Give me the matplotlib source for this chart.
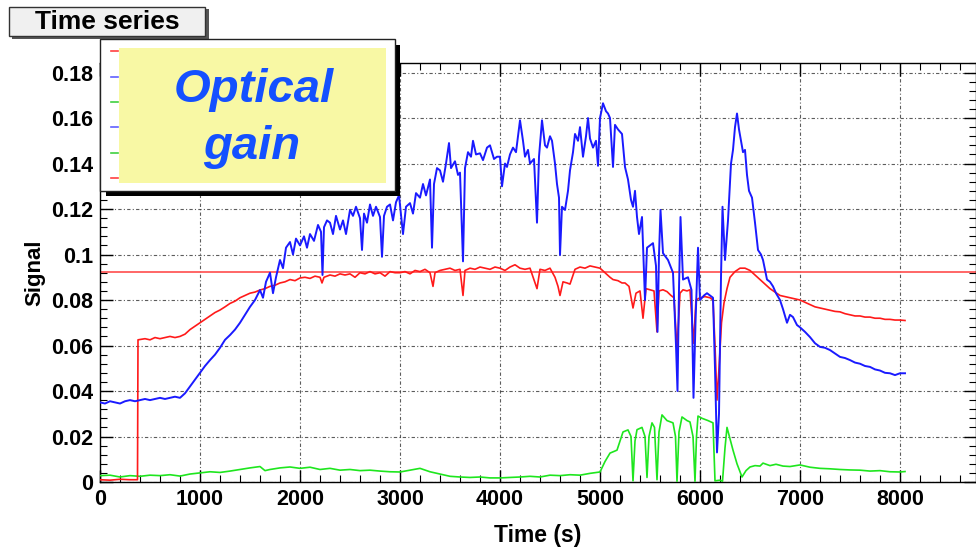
import matplotlib
matplotlib.use("Agg")
import matplotlib.pyplot as plt
from matplotlib.patches import Rectangle
from matplotlib.lines import Line2D
from matplotlib.ticker import MultipleLocator

plt.rcParams['font.family'] = ['Liberation Sans', 'DejaVu Sans']

# ---------------- data ----------------
blue_t = [0, 50, 100, 150, 200, 250, 300, 350, 400, 450, 500, 550, 600, 650, 700, 750, 800,
          850, 900, 950, 1000, 1050, 1100, 1150, 1200, 1250, 1300, 1350, 1400, 1450, 1500,
          1550, 1600, 1630, 1660, 1700, 1730, 1760, 1800, 1830, 1860, 1900, 1930, 1960, 2000,
          2040, 2070, 2100, 2140, 2180, 2210, 2225, 2240, 2270, 2300, 2330, 2360, 2400, 2430,
          2460, 2500, 2530, 2560, 2600, 2620, 2640, 2670, 2700, 2730, 2760, 2800, 2820, 2840,
          2870, 2900, 2930, 2960, 2990, 3030, 3060, 3100, 3130, 3160, 3200, 3230, 3260, 3300,
          3320, 3340, 3370, 3400, 3430, 3460, 3490, 3510, 3550, 3580, 3600, 3630, 3650, 3680,
          3710, 3730, 3760, 3800, 3830, 3870, 3900, 3940, 3970, 4000, 4020, 4050, 4070, 4100,
          4130, 4160, 4200, 4230, 4250, 4280, 4300, 4340, 4370, 4390, 4420, 4450, 4470, 4500,
          4520, 4550, 4570, 4590, 4600, 4620, 4650, 4680, 4700, 4730, 4750, 4780, 4800, 4830,
          4860, 4880, 4900, 4930, 4960, 4980, 5000, 5030, 5060, 5080, 5100, 5130, 5150, 5180,
          5220, 5250, 5280, 5310, 5330, 5350, 5370, 5390, 5420, 5450, 5470, 5500, 5530, 5560,
          5575, 5590, 5605, 5630, 5680, 5730, 5760, 5775, 5790, 5805, 5830, 5880, 5915, 5935,
          5955, 5980, 6000, 6040, 6070, 6100, 6130, 6150, 6170, 6190, 6210, 6225, 6250, 6280,
          6310, 6330, 6350, 6370, 6390, 6410, 6430, 6450, 6470, 6490, 6520, 6550, 6580, 6610,
          6630, 6670, 6700, 6730, 6760, 6800, 6830, 6870, 6900, 6930, 6970, 7000, 7050, 7100,
          7150, 7200, 7250, 7300, 7350, 7400, 7450, 7500, 7550, 7600, 7650, 7700, 7750, 7800,
          7850, 7900, 7950, 8000, 8050]
blue_v = [0.035, 0.0345, 0.0355, 0.035, 0.0345, 0.0355, 0.036, 0.0355, 0.036, 0.0365, 0.036,
          0.0365, 0.037, 0.0365, 0.037, 0.0375, 0.037,
          0.039, 0.042, 0.045, 0.048, 0.051, 0.0536, 0.056, 0.059, 0.0625, 0.0646, 0.067, 0.070,
          0.0735, 0.077, 0.080, 0.0844, 0.081, 0.088, 0.092, 0.083, 0.090, 0.0976, 0.094, 0.103,
          0.1055, 0.100, 0.107, 0.104,
          0.108, 0.103, 0.109, 0.106, 0.113, 0.110, 0.091, 0.112, 0.115, 0.114, 0.109, 0.117,
          0.111, 0.115, 0.109, 0.1196, 0.117, 0.121, 0.116, 0.102, 0.118, 0.114, 0.122, 0.117,
          0.121, 0.1165, 0.099, 0.117, 0.121, 0.122, 0.115, 0.123, 0.126, 0.109, 0.121, 0.1226,
          0.118, 0.127, 0.125, 0.131, 0.126, 0.133,
          0.103, 0.131, 0.138, 0.137, 0.132, 0.140, 0.149, 0.138, 0.141, 0.135, 0.136, 0.097,
          0.138, 0.145, 0.143, 0.150, 0.144, 0.1445, 0.1415, 0.147, 0.148, 0.142, 0.143, 0.143,
          0.130, 0.140, 0.1385, 0.144,
          0.147, 0.145, 0.159, 0.150, 0.143, 0.146, 0.140, 0.142, 0.114, 0.143, 0.159, 0.148,
          0.147, 0.152, 0.150, 0.140, 0.131, 0.125, 0.0998, 0.121, 0.1196, 0.128, 0.137, 0.145,
          0.153, 0.150, 0.156, 0.143,
          0.152, 0.160, 0.151, 0.147, 0.150, 0.139, 0.160, 0.1665, 0.163, 0.162, 0.160, 0.1385,
          0.157, 0.155, 0.153, 0.1385, 0.133, 0.124, 0.121, 0.128, 0.1165, 0.109, 0.1165, 0.080,
          0.103, 0.104, 0.105, 0.095,
          0.066, 0.100, 0.1196, 0.1006, 0.0976, 0.092, 0.060, 0.040, 0.085, 0.1165, 0.089, 0.090,
          0.0844, 0.037,
          0.070, 0.103, 0.080, 0.082, 0.083, 0.082, 0.081, 0.050, 0.013, 0.030, 0.090, 0.121,
          0.0976, 0.115,
          0.140, 0.146, 0.156, 0.162, 0.155, 0.150, 0.145, 0.146, 0.135, 0.128, 0.125, 0.114,
          0.102, 0.100,
          0.0976, 0.089, 0.088, 0.086, 0.083, 0.080, 0.076, 0.070, 0.0735, 0.0725, 0.069, 0.068,
          0.066, 0.0637,
          0.061, 0.0594, 0.059, 0.058, 0.0565, 0.055, 0.0545, 0.0536, 0.0525, 0.052, 0.051,
          0.0506, 0.0495, 0.049,
          0.048, 0.0478, 0.047, 0.0478, 0.0478]

red_t = [0, 100, 200, 300, 375, 380, 450, 500, 550, 600, 650, 700, 750, 800, 850, 900, 950,
         1000, 1050, 1100, 1150, 1200, 1250, 1300, 1350, 1400, 1450, 1500, 1550, 1600, 1650,
         1700, 1750, 1800, 1850, 1900, 1950, 2000, 2050, 2100, 2150, 2200, 2220, 2240, 2300,
         2350, 2400, 2450, 2500, 2550, 2600, 2650, 2700, 2750, 2800, 2850, 2900, 2950, 3000,
         3050, 3100, 3150, 3200, 3250, 3300, 3330, 3350, 3400, 3450, 3500, 3550, 3600, 3630,
         3650, 3700, 3750, 3800, 3850, 3900, 3950, 4000, 4050, 4100, 4150, 4200, 4250, 4300,
         4370, 4400, 4450, 4500, 4550, 4580, 4600, 4630, 4670, 4700, 4750, 4800, 4850, 4900,
         4950, 5000, 5050, 5100, 5130, 5180, 5220, 5250, 5290, 5330, 5360, 5400, 5430, 5460,
         5500, 5540, 5570, 5590, 5630, 5670, 5710, 5740, 5770, 5800, 5830, 5870, 5900, 5935,
         5960, 6000, 6050, 6100, 6130, 6150, 6170, 6190, 6215, 6240, 6270, 6300, 6350, 6400,
         6450, 6500, 6550, 6600, 6650, 6700, 6750, 6800, 6850, 6900, 6950, 7000, 7050, 7100,
         7150, 7200, 7250, 7300, 7350, 7400, 7450, 7500, 7550, 7600, 7650, 7700, 7750, 7800,
         7850, 7900, 7950, 8000, 8050]
red_v = [0.001, 0.0008, 0.0012, 0.001, 0.001, 0.0625, 0.063, 0.0625, 0.0635, 0.063, 0.0635,
         0.064, 0.0635, 0.064, 0.065, 0.067, 0.0685,
         0.070, 0.0715, 0.073, 0.0745, 0.0756, 0.077, 0.0785, 0.0795, 0.081, 0.082, 0.083,
         0.0835, 0.0844, 0.085,
         0.086, 0.0865, 0.0875, 0.088, 0.089, 0.0885, 0.0897, 0.090, 0.0895, 0.0905, 0.090,
         0.0875, 0.090, 0.091,
         0.0905, 0.0915, 0.091, 0.0915, 0.090, 0.092, 0.0915, 0.0925, 0.0915, 0.092, 0.0905,
         0.0925, 0.092, 0.092,
         0.0925, 0.0915, 0.093, 0.0925, 0.0935, 0.092, 0.086, 0.092, 0.093, 0.0935, 0.094,
         0.093, 0.0935, 0.082,
         0.093, 0.094, 0.0935, 0.0945, 0.094, 0.0935, 0.0945, 0.094, 0.093, 0.0945, 0.0955,
         0.094, 0.0935, 0.094,
         0.085, 0.0935, 0.093, 0.094, 0.090, 0.086, 0.082, 0.088, 0.0875, 0.087, 0.0935,
         0.0945, 0.094, 0.095,
         0.0945, 0.094, 0.092, 0.090, 0.089, 0.0885, 0.0875, 0.0875, 0.086, 0.0765, 0.083,
         0.084, 0.072, 0.085,
         0.0845, 0.084, 0.066, 0.084, 0.0845, 0.0837, 0.082, 0.081, 0.058, 0.083, 0.0845,
         0.084, 0.0845, 0.061,
         0.080, 0.081, 0.0815, 0.081, 0.080, 0.060, 0.036, 0.050, 0.070, 0.0787, 0.085, 0.090,
         0.0925, 0.094,
         0.094, 0.093, 0.091, 0.089, 0.087, 0.085, 0.0835, 0.082, 0.0815, 0.081, 0.0805, 0.080,
         0.079, 0.078,
         0.077, 0.0765, 0.076, 0.0755, 0.075, 0.0748, 0.074, 0.0735, 0.073, 0.073, 0.0725,
         0.0725, 0.072, 0.072,
         0.0715, 0.0715, 0.0712, 0.0712, 0.071]

green_t = [0, 100, 200, 300, 400, 500, 600, 700, 800, 900, 1000, 1100, 1200, 1300, 1400, 1500,
           1600, 1650, 1700, 1800, 1900, 2000, 2100, 2200, 2300, 2400, 2500, 2600, 2700, 2800,
           2900, 3000, 3100, 3200, 3300, 3400, 3500, 3600, 3700, 3800, 3900, 4000, 4100, 4200,
           4300, 4400, 4500, 4600, 4700, 4800, 4900, 5000, 5050, 5100, 5170, 5230, 5280, 5310,
           5330, 5350, 5370, 5420, 5450, 5470, 5490, 5520, 5545, 5570, 5590, 5620, 5670, 5730,
           5755, 5770, 5790, 5820, 5870, 5900, 5930, 5950, 5965, 5980, 6020, 6080, 6130, 6150,
           6200, 6225, 6250, 6270, 6300, 6330, 6370, 6420, 6460, 6500, 6550, 6600, 6630, 6700,
           6760, 6830, 6900, 7000, 7100, 7200, 7300, 7400, 7500, 7600, 7700, 7800, 7900, 8000,
           8050]
green_v = [0.0028, 0.003, 0.0022, 0.0028, 0.0025, 0.003, 0.0028, 0.0032, 0.0026, 0.0035, 0.004,
           0.0045, 0.0042, 0.0048, 0.0055, 0.0062,
           0.0068, 0.005, 0.0055, 0.0062, 0.0066, 0.006, 0.0065, 0.0055, 0.006, 0.0052, 0.0055,
           0.005, 0.0052, 0.0048,
           0.0045, 0.0044, 0.0052, 0.006, 0.0045, 0.0035, 0.0025, 0.0022, 0.002, 0.0022, 0.0018,
           0.0018, 0.002, 0.0022,
           0.0025, 0.0022, 0.003, 0.0028, 0.0032, 0.003, 0.0038, 0.0044, 0.009, 0.0127, 0.014,
           0.022, 0.0229, 0.020,
           0.0005, 0.018, 0.023, 0.024, 0.020, 0.002, 0.020, 0.026, 0.024, 0.001, 0.022, 0.0295,
           0.027, 0.026,
           0.020, 0.0003, 0.022, 0.0286, 0.027, 0.0264, 0.020, 0.0003, 0.020, 0.029, 0.028,
           0.027, 0.026, 0.0005,
           0.0008, 0.0003, 0.015, 0.024, 0.019, 0.014, 0.008, 0.0022, 0.005, 0.0066, 0.0072,
           0.007, 0.0083, 0.0072,
           0.0078, 0.007, 0.0068, 0.0075, 0.0065, 0.006, 0.0058, 0.0055, 0.0053, 0.0052, 0.0048,
           0.005, 0.0045, 0.0044,
           0.0046]

ref_level = 0.0923

x_ticks = [0, 1000, 2000, 3000, 4000, 5000, 6000, 7000, 8000]
x_tick_labels = ["0", "1000", "2000", "3000", "4000", "5000", "6000", "7000", "8000"]
y_ticks = [0, 0.02, 0.04, 0.06, 0.08, 0.1, 0.12, 0.14, 0.16, 0.18]
y_tick_labels = ["0", "0.02", "0.04", "0.06", "0.08", "0.1", "0.12", "0.14", "0.16", "0.18"]

# ---------------- figure ----------------
W, H = 976, 552
fig = plt.figure(figsize=(W / 100, H / 100), dpi=100)
fig.patch.set_facecolor("white")


def fx(px):
    return px / W


def fy(py):
    return 1 - py / H


ax_l, ax_r, ax_t, ax_b = 100, 976, 63, 482
ax = fig.add_axes([fx(ax_l), fy(ax_b), (ax_r - ax_l) / W, (ax_b - ax_t) / H])
ax.set_xlim(0, 8760)
ax.set_ylim(0, 0.1842)

ax.grid(True, which="major", color="#333333", linestyle=(0, (3, 2, 1, 2)), linewidth=0.8,
        alpha=0.8)
ax.set_axisbelow(True)

ax.axhline(ref_level, color="#ff5a5a", linewidth=1.3, zorder=2)
ax.plot(green_t, green_v, color="#1ee61e", linewidth=1.2, zorder=3)
ax.plot(red_t, red_v, color="#ff1a1a", linewidth=1.2, zorder=4)
ax.plot(blue_t, blue_v, color="#1a1aff", linewidth=1.4, zorder=5)

ax.set_xticks(x_ticks)
ax.set_xticklabels(x_tick_labels)
ax.set_yticks(y_ticks)
ax.set_yticklabels(y_tick_labels)
ax.xaxis.set_minor_locator(MultipleLocator(200))
ax.yaxis.set_minor_locator(MultipleLocator(0.004))
ax.tick_params(which="both", direction="in", top=True, right=True, colors="black")
ax.tick_params(which="major", length=9, width=1.0, labelsize=15.5, pad=5)
ax.tick_params(which="minor", length=5, width=0.8)
for lab in ax.get_xticklabels() + ax.get_yticklabels():
    lab.set_fontweight("bold")
for s in ax.spines.values():
    s.set_linewidth(1.0)

ax.set_xlabel("Time (s)", fontsize=16.5, fontweight="bold", labelpad=10)
ax.set_ylabel("Signal", fontsize=16, fontweight="bold", labelpad=4)

# ---------------- "Time series" tab ----------------
fig.add_artist(Rectangle((fx(12), fy(39)), (207 - 10) / W, (37 - 7) / H,
                         transform=fig.transFigure, facecolor="#555555",
                         edgecolor="none", zorder=6))
fig.add_artist(Rectangle((fx(9), fy(36)), (205 - 9) / W, (36 - 7) / H,
                         transform=fig.transFigure, facecolor="#f0f0f0",
                         edgecolor="#333333", linewidth=1.0, zorder=7))
fig.text(fx(107), fy(22), "Time series", fontsize=19, fontweight="bold",
         ha="center", va="center", zorder=8)

# ---------------- legend box with overlay ----------------
fig.add_artist(Rectangle((fx(106), fy(196)), (400 - 106) / W, (196 - 45) / H,
                         transform=fig.transFigure, facecolor="black",
                         edgecolor="none", zorder=6))
fig.add_artist(Rectangle((fx(100), fy(191)), (395 - 100) / W, (191 - 39) / H,
                         transform=fig.transFigure, facecolor="white",
                         edgecolor="#222222", linewidth=1.0, zorder=7))
for yy, col in [(51, "#ff4040"), (77, "#6060ff"), (102, "#40d040"),
                (127, "#6060ff"), (153, "#40d040"), (178, "#ff4040")]:
    fig.add_artist(Line2D([fx(111), fx(118)], [fy(yy), fy(yy)], transform=fig.transFigure,
                          color=col, linewidth=1.2, zorder=8))
fig.add_artist(Rectangle((fx(119), fy(183)), (386 - 119) / W, (183 - 48) / H,
                         transform=fig.transFigure, facecolor="#f8f8a4",
                         edgecolor="none", zorder=9))
fig.text(fx(254), fy(90), "Optical", fontsize=34, fontweight="bold", fontstyle="italic",
         color="#1450ff", ha="center", va="center", zorder=10)
fig.text(fx(252), fy(147), "gain", fontsize=34, fontweight="bold", fontstyle="italic",
         color="#1450ff", ha="center", va="center", zorder=10)

fig.savefig("out.png", dpi=100)
